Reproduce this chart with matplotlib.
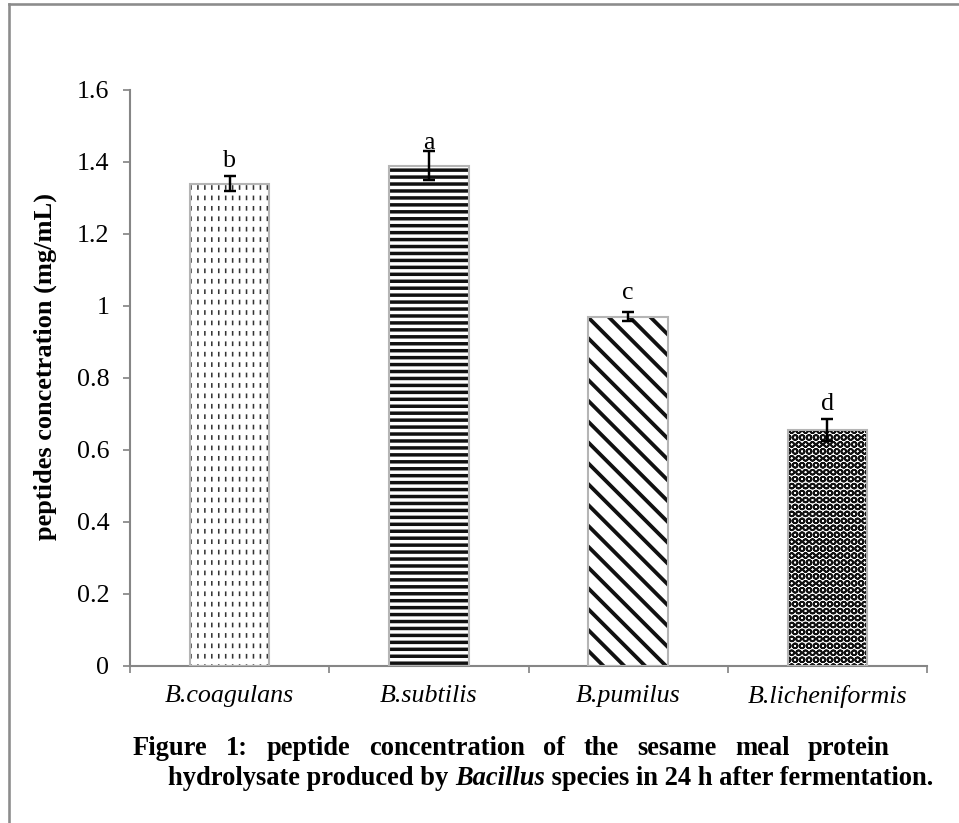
import matplotlib
matplotlib.use("Agg")
import matplotlib.pyplot as plt
from matplotlib.lines import Line2D

species = ["B.coagulans", "B.subtilis", "B.pumilus", "B.licheniformis"]
peptides = [1.34, 1.39, 0.97, 0.655]
errors = [0.02, 0.04, 0.012, 0.03]
letters = ["b", "a", "c", "d"]
letter_y = [1.385, 1.435, 1.02, 0.71]
hatches = ["|||", "---", "\\\\", "OOO"]
hatch_lw = [0.9, 2.0, 2.2, 1.0]
hatch_col = ["#333333", "#111111", "#111111", "#111111"]
yticks = [0, 0.2, 0.4, 0.6, 0.8, 1, 1.2, 1.4, 1.6]

plt.rcParams["font.family"] = ["Liberation Serif", "DejaVu Serif"]

W, H, DPI = 959, 823, 125
fig = plt.figure(figsize=(W / DPI, H / DPI), dpi=DPI)
ax = fig.add_axes([130 / W, 1 - 666 / H, (927 - 130) / W, (666 - 90) / H])

x = range(len(species))
for i in x:
    with plt.rc_context({"hatch.linewidth": hatch_lw[i]}):
        b = ax.bar(i, peptides[i], width=0.4, color="white", edgecolor=hatch_col[i],
                   linewidth=0, hatch=hatches[i], zorder=2)
        for p in b:
            if hasattr(p, "set_hatch_linewidth"):
                p.set_hatch_linewidth(hatch_lw[i])
    if i == 0:
        # break the vertical lines into short dashes
        with plt.rc_context({"hatch.linewidth": 3.3}):
            w = ax.bar(i, peptides[i], width=0.4, fill=False, edgecolor="white",
                       linewidth=0, hatch="--", zorder=3)
            for p in w:
                if hasattr(p, "set_hatch_linewidth"):
                    p.set_hatch_linewidth(3.3)
    ax.bar(i, peptides[i], width=0.4, fill=False, edgecolor="#b5b5b5",
           linewidth=1.2, zorder=4)

ax.errorbar(list(x), peptides, yerr=errors, fmt="none", ecolor="black",
            elinewidth=1.4, capsize=3.5, capthick=1.4, zorder=5)
for i in x:
    ax.text(i, letter_y[i], letters[i], ha="center", va="baseline", fontsize=15)

ax.set_xlim(-0.5, len(species) - 0.5)
ax.set_ylim(0, 1.6)
ax.set_yticks(yticks)
ax.set_yticklabels([f"{v:g}" for v in yticks], fontsize=15)
ax.set_xticks(list(x))
ax.set_xticklabels(species, fontsize=15, fontstyle="italic")
ax.set_xticks([i - 0.5 for i in range(len(species) + 1)], minor=True)
ax.tick_params(axis="x", which="major", length=0, pad=11)
ax.tick_params(axis="x", which="minor", length=4, width=1, color="#868686", direction="out")
ax.tick_params(axis="y", length=4, width=1, color="#868686", pad=8)
for s in ["top", "right"]:
    ax.spines[s].set_visible(False)
for s in ["left", "bottom"]:
    ax.spines[s].set_color("#868686")
    ax.spines[s].set_linewidth(1.2)

fig.text(45 / W, 1 - 366 / H, "peptides concetration (mg/mL)", rotation=90,
         ha="center", va="center", fontsize=15.2, fontweight="bold")

# caption, drawn word by word
renderer = fig.canvas.get_renderer()
CAP = 15.3


def put(xpx, ypx, s, italic=False):
    t = fig.text(xpx / W, 1 - ypx / H, s, fontsize=CAP, fontweight="bold",
                 fontstyle="italic" if italic else "normal", va="baseline")
    return t.get_window_extent(renderer).width


line1 = "Figure 1: peptide concentration of the sesame meal protein".split()
widths = []
for wd in line1:
    t = fig.text(0, 0, wd, fontsize=CAP, fontweight="bold")
    widths.append(t.get_window_extent(renderer).width)
    t.remove()
gap = (890 - 133 - sum(widths)) / (len(line1) - 1)
xp = 133
for wd, wdt in zip(line1, widths):
    put(xp, 755, wd)
    xp += wdt + gap

xp = 168
for s, it in [("hydrolysate produced by ", False), ("Bacillus", True),
              (" species in 24 h after fermentation.", False)]:
    xp += put(xp, 785, s, it)

# page frame (top and left edges)
fig.add_artist(Line2D([9 / W, 9 / W], [0, 1 - 4 / H], transform=fig.transFigure,
                      color="#8c8c8c", lw=1.5))
fig.add_artist(Line2D([9 / W, 1], [1 - 4 / H, 1 - 4 / H], transform=fig.transFigure,
                      color="#8c8c8c", lw=1.5))

fig.savefig("out.png", dpi=DPI)
